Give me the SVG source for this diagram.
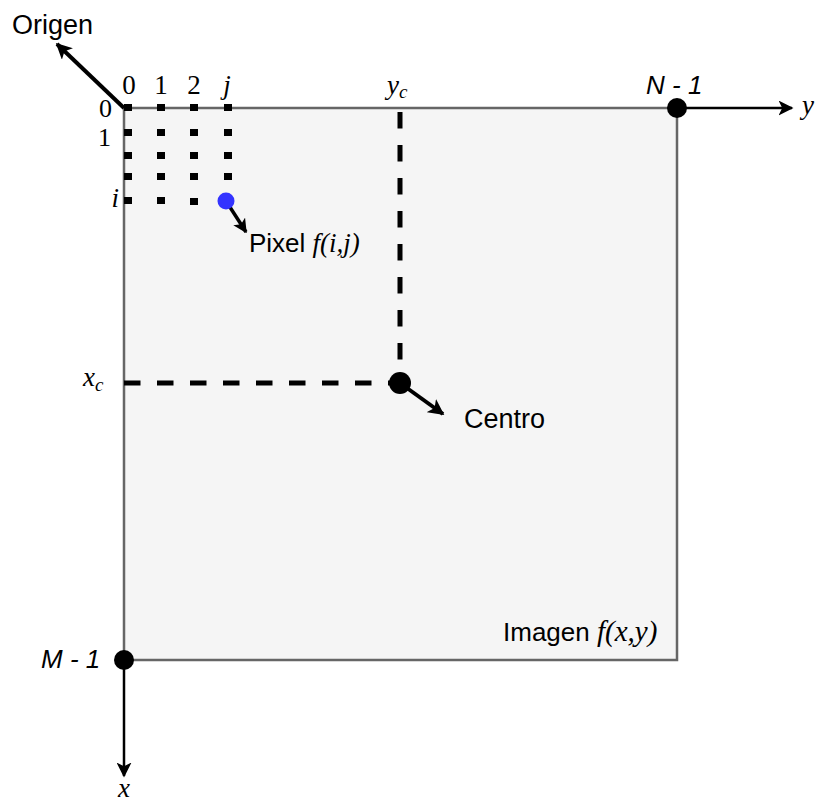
<svg xmlns="http://www.w3.org/2000/svg" width="816" height="805" viewBox="0 0 816 805">
<defs>
<marker id="ah" viewBox="0 0 10 10" refX="9" refY="5" markerWidth="4" markerHeight="4" orient="auto" markerUnits="strokeWidth"><path d="M0,0 L10,5 L0,10 L2.5,5 z" fill="#000"/></marker>
<marker id="ah2" viewBox="0 0 10 10" refX="9" refY="5" markerWidth="6" markerHeight="6" orient="auto" markerUnits="strokeWidth"><path d="M0,0 L10,5 L0,10 L2.5,5 z" fill="#000"/></marker>
<style>
.sans{font-family:"Liberation Sans",Arial,sans-serif;fill:#000}
.ser{font-family:"Liberation Serif","Times New Roman",serif;fill:#000}
.it{font-style:italic}
.sq{fill:#000}
.dash{stroke:#000;stroke-width:5;stroke-dasharray:16.5 16.5;fill:none}
</style>
</defs>
<rect width="816" height="805" fill="#fff"/>
<g id="imagen">
<rect x="124" y="108" width="553" height="552" fill="#f5f5f5" stroke="#666" stroke-width="2.5"/>
<text class="sans" x="503" y="641" font-size="26">Imagen <tspan class="ser it" font-size="29">f(x,y)</tspan></text>
</g>
<g id="grid">
<rect class="sq" x="124" y="104" width="8" height="7"/>
<rect class="sq" x="157" y="104" width="8" height="7"/>
<rect class="sq" x="190" y="104" width="8" height="7"/>
<rect class="sq" x="224" y="104" width="8" height="7"/>
<rect class="sq" x="124" y="129" width="8" height="7"/>
<rect class="sq" x="157" y="129" width="8" height="7"/>
<rect class="sq" x="190" y="129" width="8" height="7"/>
<rect class="sq" x="224" y="129" width="8" height="7"/>
<rect class="sq" x="124" y="152" width="8" height="7"/>
<rect class="sq" x="157" y="152" width="8" height="7"/>
<rect class="sq" x="190" y="152" width="8" height="7"/>
<rect class="sq" x="224" y="152" width="8" height="7"/>
<rect class="sq" x="124" y="173" width="8" height="7"/>
<rect class="sq" x="157" y="173" width="8" height="7"/>
<rect class="sq" x="190" y="173" width="8" height="7"/>
<rect class="sq" x="224" y="173" width="8" height="7"/>
<rect class="sq" x="124" y="197" width="8" height="7"/>
<rect class="sq" x="157" y="197" width="8" height="7"/>
<rect class="sq" x="190" y="198" width="8" height="7"/>
<text class="ser" x="129" y="94" font-size="27" text-anchor="middle">0</text>
<text class="ser" x="161" y="94" font-size="27" text-anchor="middle">1</text>
<text class="ser" x="194" y="94" font-size="27" text-anchor="middle">2</text>
<text class="ser it" x="227" y="94" font-size="27" text-anchor="middle">j</text>
<text class="ser" x="112" y="117" font-size="26" text-anchor="end">0</text>
<text class="ser" x="111" y="146" font-size="26" text-anchor="end">1</text>
<text class="ser it" x="119" y="207" font-size="27" text-anchor="end">i</text>
</g>
<g id="connectors">
<line x1="124" y1="108" x2="57" y2="44" stroke="#000" stroke-width="4" marker-end="url(#ah)"/>
<line x1="226" y1="201" x2="246" y2="232" stroke="#000" stroke-width="3.5" marker-end="url(#ah)"/>
<line x1="400" y1="383" x2="443" y2="414" stroke="#000" stroke-width="4" marker-end="url(#ah)"/>
<line x1="677" y1="108" x2="792" y2="108" stroke="#000" stroke-width="2.5" marker-end="url(#ah2)"/>
<line x1="124" y1="660" x2="124" y2="776" stroke="#000" stroke-width="2.5" marker-end="url(#ah2)"/>
<line class="dash" x1="400" y1="112" x2="400" y2="372"/>
<line class="dash" x1="124" y1="383" x2="392" y2="383"/>
</g>
<g id="origen">
<text class="sans" x="12" y="34" font-size="27">Origen</text>
</g>
<g id="pixel">
<circle cx="226" cy="201" r="8.5" fill="#3333ff"/>
<text class="sans" x="249" y="252" font-size="26">Pixel <tspan class="ser it" font-size="27">f(i,j)</tspan></text>
</g>
<g id="centro">
<circle cx="400" cy="383" r="11" fill="#000"/>
<text class="sans" x="464" y="428" font-size="27">Centro</text>
</g>
<g id="yc">
<text class="ser it" x="387" y="94" font-size="27">y<tspan font-size="19" dy="4">c</tspan></text>
</g>
<g id="xc">
<text class="ser it" x="83" y="386" font-size="27">x<tspan font-size="19" dy="5">c</tspan></text>
</g>
<g id="n1">
<circle cx="677" cy="108" r="10" fill="#000"/>
<text class="sans it" x="646" y="94" font-size="26">N - 1</text>
<text class="ser it" x="802" y="114" font-size="27">y</text>
</g>
<g id="m1">
<circle cx="124" cy="660" r="10" fill="#000"/>
<text class="sans it" x="41" y="668" font-size="26">M - 1</text>
<text class="ser it" x="124" y="797" font-size="27" text-anchor="middle">x</text>
</g>
</svg>
